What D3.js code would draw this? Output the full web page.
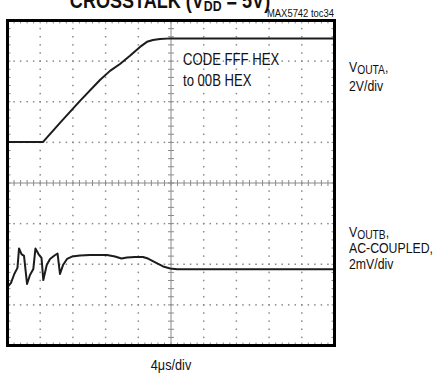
<!DOCTYPE html>
<html>
<head>
<meta charset="utf-8">
<script src="https://cdn.jsdelivr.net/npm/d3@7"></script>
<style>
  html, body { margin: 0; padding: 0; background: #fff; }
  svg { display: block; }
  text { font-family: "Liberation Sans", Arial, sans-serif; fill: #111; }
</style>
</head>
<body>
<svg id="chart" width="446" height="379"></svg>
<script>
// VOUTA step response: time (µs) and voltage (V)
const timeA = [0, 4.34, 4.46, 6.42, 8.87, 11.31, 12.54, 13.76, 14.98, 16.21, 17.06, 17.80, 18.65, 20.0, 40];
const voutA = [0.02, 0.02, 0.07, 0.96, 2.04, 3.07, 3.52, 3.86, 4.26, 4.70, 4.95, 5.04, 5.09, 5.12, 5.12];

// VOUTB crosstalk (AC-coupled): time (µs) and voltage (mV)
const timeB = [0.12, 0.43, 0.83, 1.22, 1.41, 1.71, 2.02, 2.39, 2.75, 3.16, 3.42, 3.79, 4.16, 4.38, 4.80, 5.20,
               5.75, 6.12, 6.42, 6.79, 7.28, 7.89, 8.87, 10.09, 12.17, 13.15, 13.94, 14.61, 15.60, 16.57, 17.19,
               18.25, 19.04, 19.90, 20.76, 40];
const voutB = [-1.07, -0.92, -0.48, -0.18, 0.78, 0.50, 0.41, -0.97, -0.53, -0.23, 0.78, 0.50, 0.31, -0.78, -0.04, 0.26,
               0.43, 0.53, -0.48, -0.04, 0.26, 0.38, 0.43, 0.46, 0.46, 0.38, 0.28, 0.33, 0.36, 0.36, 0.28,
               0.06, -0.11, -0.21, -0.25, -0.25];

// Screen settings: 10 horizontal x 8 vertical divisions
const timePerDiv = 4;          // µs/div
const voltsPerDivA = 2;        // V/div
const mvPerDivB = 2;           // mV/div
const groundDivA = 1;          // channel A reference level (div)
const groundDivB = -2;         // channel B reference level (div)

const noteText = "MAX5742 toc34";
const codeLines = ["CODE FFF HEX", "to 00B HEX"];
const labelA = ["2V/div"];
const labelB = ["AC-COUPLED,", "2mV/div"];
const xAxisLabel = "4\u03BCs/div";

const svg = d3.select("#chart");
const plotLeft = 7.5, plotRight = 334.5, plotTop = 20.5, plotBottom = 345.5;
const narrow = 0.82;   // horizontal squeeze for a condensed look

const x = d3.scaleLinear().domain([0, 10 * timePerDiv]).range([plotLeft, plotRight]);
const y = d3.scaleLinear().domain([-4, 4]).range([plotBottom, plotTop]);

const gridColor = "#8a8a8a";
const g = svg.append("g");

// Dotted graticule: major lines drawn as dots at every fifth of a division
const majorX = d3.range(1, 10).map(i => i * timePerDiv);
const majorY = d3.range(-3, 4);
const minorX = d3.range(0, 50 + 1).map(i => i * timePerDiv / 5);
const minorY = d3.range(-20, 21).map(i => i / 5);

majorY.filter(d => d !== 0).forEach(dv => {
  g.selectAll(null).data(minorX).join("rect")
    .attr("x", d => x(d) - 0.75).attr("y", y(dv) - 0.75)
    .attr("width", 1.5).attr("height", 1.5).attr("fill", gridColor);
});
majorX.filter(d => d !== 5 * timePerDiv).forEach(t => {
  g.selectAll(null).data(minorY).join("rect")
    .attr("x", x(t) - 0.75).attr("y", d => y(d) - 0.75)
    .attr("width", 1.5).attr("height", 1.5).attr("fill", gridColor);
});

// Centre axes with minor tick marks
const cx = x(5 * timePerDiv), cy = y(0);
g.append("line").attr("x1", plotLeft).attr("x2", plotRight).attr("y1", cy).attr("y2", cy)
  .attr("stroke", gridColor).attr("stroke-width", 1);
g.append("line").attr("x1", cx).attr("x2", cx).attr("y1", plotTop).attr("y2", plotBottom)
  .attr("stroke", gridColor).attr("stroke-width", 1);
g.selectAll(null).data(minorX).join("line")
  .attr("x1", d => x(d)).attr("x2", d => x(d)).attr("y1", cy - 3).attr("y2", cy + 3)
  .attr("stroke", gridColor).attr("stroke-width", 1);
g.selectAll(null).data(minorY).join("line")
  .attr("x1", cx - 3).attr("x2", cx + 3).attr("y1", d => y(d)).attr("y2", d => y(d))
  .attr("stroke", gridColor).attr("stroke-width", 1);

// Minor ticks along the frame edges
g.selectAll(null).data(minorX).join("line")
  .attr("x1", d => x(d)).attr("x2", d => x(d)).attr("y1", plotTop).attr("y2", plotTop + 3)
  .attr("stroke", gridColor).attr("stroke-width", 1);
g.selectAll(null).data(minorX).join("line")
  .attr("x1", d => x(d)).attr("x2", d => x(d)).attr("y1", plotBottom - 3).attr("y2", plotBottom)
  .attr("stroke", gridColor).attr("stroke-width", 1);
g.selectAll(null).data(minorY).join("line")
  .attr("x1", plotLeft).attr("x2", plotLeft + 3).attr("y1", d => y(d)).attr("y2", d => y(d))
  .attr("stroke", gridColor).attr("stroke-width", 1);
g.selectAll(null).data(minorY).join("line")
  .attr("x1", plotRight - 3).attr("x2", plotRight).attr("y1", d => y(d)).attr("y2", d => y(d))
  .attr("stroke", gridColor).attr("stroke-width", 1);

// Traces
const traceA = timeA.map((t, i) => [t, voutA[i] / voltsPerDivA + groundDivA]);
const traceB = timeB.map((t, i) => [t, voutB[i] / mvPerDivB + groundDivB]);
const line = d3.line().x(d => x(d[0])).y(d => y(d[1]));

svg.append("path").datum(traceA).attr("d", line)
  .attr("fill", "none").attr("stroke", "#1c1c1c").attr("stroke-width", 2).attr("stroke-linejoin", "round");
svg.append("path").datum(traceB).attr("d", line)
  .attr("fill", "none").attr("stroke", "#1c1c1c").attr("stroke-width", 2).attr("stroke-linejoin", "round");

// Frame
svg.append("rect").attr("x", plotLeft).attr("y", plotTop)
  .attr("width", plotRight - plotLeft).attr("height", plotBottom - plotTop)
  .attr("fill", "none").attr("stroke", "#000").attr("stroke-width", 3);

// Condensed text helper
function ctext(xp, yp, size, anchor) {
  return svg.append("g").attr("transform", `translate(${xp},${yp}) scale(${narrow},1)`)
    .append("text").attr("font-size", size).attr("text-anchor", anchor || "start");
}

// Title (partly above the page edge)
const title = ctext(170, 8, 22, "middle").attr("font-weight", "bold");
title.append("tspan").text("CROSSTALK (V");
title.append("tspan").attr("font-size", 15).attr("dy", 3).text("DD");
title.append("tspan").attr("dy", -3).text(" = 5V)");

ctext(334, 16.5, 11.5, "end").attr("fill", "#333").text(noteText);

// Annotation inside the screen
ctext(183, 65, 16).text(codeLines[0]);
ctext(183, 85.5, 16).text(codeLines[1]);

// Channel labels
function channelLabel(xp, ys, sub, lines) {
  const t = ctext(xp, ys[0], 15);
  t.append("tspan").text("V");
  t.append("tspan").attr("font-size", 12.5).attr("dy", 1.5).text(sub);
  t.append("tspan").attr("dy", -1.5).text(",");
  lines.forEach((l, i) => ctext(xp, ys[i + 1], 15).text(l));
}
channelLabel(349, [72, 90.5], "OUTA", labelA);
channelLabel(349, [237, 253, 268.5], "OUTB", labelB);

// x-axis scale label under the screen
ctext(171, 370, 15.5, "middle").text(xAxisLabel);
</script>
</body>
</html>
